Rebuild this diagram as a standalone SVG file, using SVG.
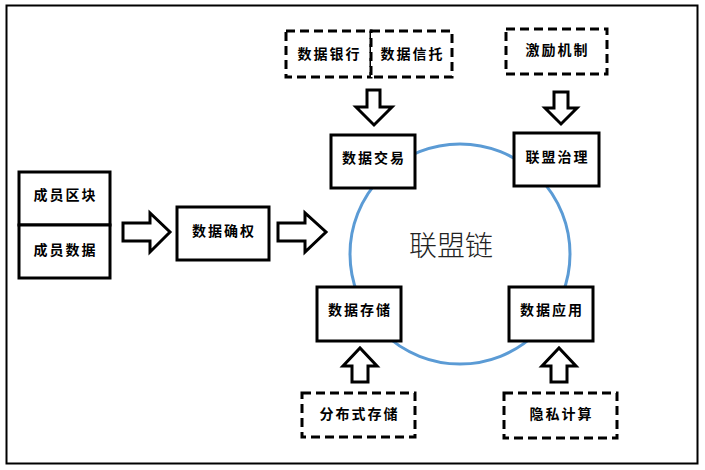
<svg xmlns="http://www.w3.org/2000/svg" width="705" height="470" viewBox="0 0 705 470">
<style>
.frame{fill:#fff;stroke:#000;stroke-width:2}
.box{fill:#fff;stroke:#000;stroke-width:3}
.dash{fill:#fff;stroke:#000;stroke-width:3;stroke-dasharray:9 5}
.arr{fill:#fff;stroke:#000;stroke-width:3;stroke-linejoin:miter}
.t{font-family:"Noto Sans CJK SC","Noto Sans",sans-serif;font-weight:bold;font-size:14px;letter-spacing:2px;text-anchor:middle;fill:#000}
.big{font-family:"Noto Sans CJK SC","Noto Sans",sans-serif;font-weight:300;font-size:28px;text-anchor:middle;fill:#222}
</style>
<rect class="frame" x="6.5" y="5.5" width="691" height="458"/>
<g id="chain">
<circle cx="460" cy="254" r="110" fill="none" stroke="#5B9BD5" stroke-width="3"/>
<text class="big" x="451" y="256">联盟链</text>
</g>
<g id="connectors">
<polygon class="arr" points="123,223 150,223 150,213 170,232 150,252 150,241 123,241"/>
<polygon class="arr" points="278,223 305,223 305,213 326,232 305,252 305,241 278,241"/>
<polygon class="arr" points="367,90 380,90 380,107 392,107 374,125 356,107 367,107"/>
<polygon class="arr" points="554,92 568,92 568,108 577,108 561,124 545,108 554,108"/>
<polygon class="arr" points="352,382 368,382 368,366 377,366 360,348 343,366 352,366"/>
<polygon class="arr" points="551,382 567,382 567,366 576,366 559,348 542,366 551,366"/>
</g>
<g id="member-block"><rect class="box" x="19" y="172" width="91" height="53"/><text class="t" x="65.5" y="200">成员区块</text></g>
<g id="member-data"><rect class="box" x="19" y="225" width="91" height="53"/><text class="t" x="65.5" y="255">成员数据</text></g>
<g id="data-rights"><rect class="box" x="177" y="207" width="92" height="53"/><text class="t" x="224" y="236">数据确权</text></g>
<g id="data-trade"><rect class="box" x="331" y="135" width="84" height="53"/><text class="t" x="374" y="163">数据交易</text></g>
<g id="governance"><rect class="box" x="514" y="133" width="85" height="53"/><text class="t" x="557.5" y="162">联盟治理</text></g>
<g id="data-storage"><rect class="box" x="317" y="287" width="84" height="54"/><text class="t" x="360" y="315">数据存储</text></g>
<g id="data-app"><rect class="box" x="509" y="287" width="84" height="54"/><text class="t" x="552" y="315">数据应用</text></g>
<g id="data-bank"><rect class="dash" x="286" y="31" width="85" height="46"/><text class="t" x="329.5" y="59">数据银行</text></g>
<g id="data-trust"><rect class="dash" x="371" y="31" width="81" height="46"/><text class="t" x="412.5" y="59">数据信托</text></g>
<g id="incentive"><rect class="dash" x="506" y="29" width="101" height="45"/><text class="t" x="557.5" y="55">激励机制</text></g>
<g id="distributed-storage"><rect class="dash" x="302" y="393" width="113" height="44"/><text class="t" x="359.5" y="419">分布式存储</text></g>
<g id="privacy-computing"><rect class="dash" x="504" y="393" width="113" height="45"/><text class="t" x="561.5" y="419">隐私计算</text></g>
</svg>
